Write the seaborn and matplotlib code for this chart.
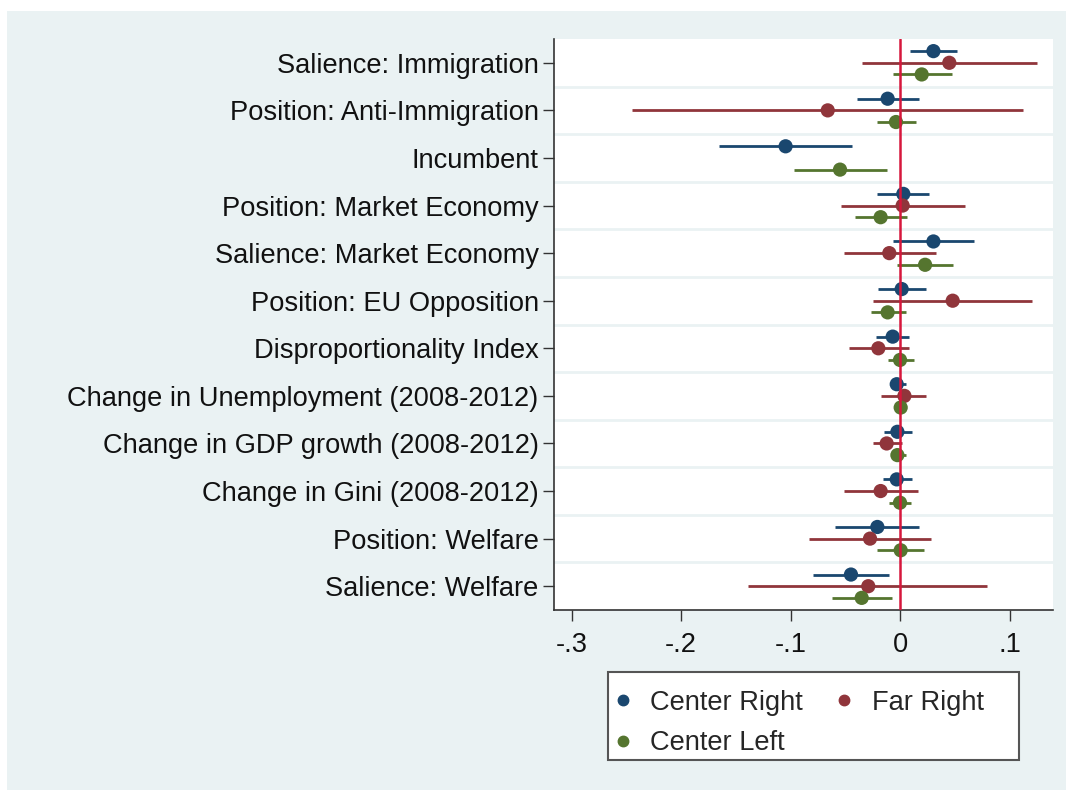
import numpy as np
import pandas as pd
import seaborn as sns
import matplotlib.pyplot as plt
from matplotlib.patches import Rectangle
from matplotlib.lines import Line2D

labels = ["Salience: Immigration", "Position: Anti-Immigration", "Incumbent",
          "Position: Market Economy", "Salience: Market Economy",
          "Position: EU Opposition", "Disproportionality Index",
          "Change in Unemployment (2008-2012)", "Change in GDP growth (2008-2012)",
          "Change in Gini (2008-2012)", "Position: Welfare", "Salience: Welfare"]

# Center Right
cr_b = [0.0305, -0.0113, -0.1045, 0.0030, 0.0305, 0.0015, -0.0067, -0.0030, -0.0024, -0.0030, -0.0207, -0.0448]
cr_lo = [0.0091, -0.0390, -0.1650, -0.0213, -0.0061, -0.0204, -0.0219, -0.0085, -0.0146, -0.0158, -0.0594, -0.0798]
cr_hi = [0.0518, 0.0174, -0.0436, 0.0268, 0.0676, 0.0238, 0.0082, 0.0052, 0.0113, 0.0113, 0.0177, -0.0101]
# Far Right (no Incumbent estimate)
fr_b = [0.0450, -0.0660, np.nan, 0.0024, -0.0098, 0.0481, -0.0198, 0.0040, -0.0122, -0.0177, -0.0274, -0.0290]
fr_lo = [-0.0344, -0.2444, np.nan, -0.0540, -0.0512, -0.0244, -0.0466, -0.0177, -0.0244, -0.0512, -0.0829, -0.1387]
fr_hi = [0.1250, 0.1127, np.nan, 0.0594, 0.0329, 0.1207, 0.0082, 0.0238, 0.0015, 0.0162, 0.0283, 0.0798]
# Center Left
cl_b = [0.0198, -0.0037, -0.0548, -0.0177, 0.0229, -0.0113, 0.0000, 0.0006, -0.0024, 0.0000, 0.0006, -0.0350]
cl_lo = [-0.0067, -0.0213, -0.0969, -0.0408, -0.0030, -0.0265, -0.0113, -0.0040, -0.0076, -0.0101, -0.0207, -0.0625]
cl_hi = [0.0472, 0.0146, -0.0116, 0.0067, 0.0487, 0.0052, 0.0128, 0.0050, 0.0052, 0.0098, 0.0223, -0.0070]

groups = ["Center Right", "Far Right", "Center Left"]
colors = {"Center Right": "#1a476f", "Far Right": "#90353b", "Center Left": "#55752f"}
offsets = {"Center Right": -0.245, "Far Right": 0.0, "Center Left": 0.245}

frames = []
for g, b, lo, hi in [("Center Right", cr_b, cr_lo, cr_hi),
                     ("Far Right", fr_b, fr_lo, fr_hi),
                     ("Center Left", cl_b, cl_lo, cl_hi)]:
    frames.append(pd.DataFrame({"group": g, "row": np.arange(len(labels)),
                                "b": b, "lo": lo, "hi": hi}))
df = pd.concat(frames, ignore_index=True).dropna()
df["y"] = df["row"] + df["group"].map(offsets)

sns.set_style("white")
plt.rcParams["font.family"] = ["Liberation Sans", "DejaVu Sans"]

W, H = 1066, 790
fig = plt.figure(figsize=(W / 100, H / 100), dpi=100, facecolor="white")
fig.patches.append(Rectangle((7 / W, 0), 1 - 7 / W, 1 - 11 / H, transform=fig.transFigure,
                             facecolor="#eaf2f3", edgecolor="none", zorder=-10))
ax = fig.add_axes([554 / W, 1 - 610 / H, (1053 - 554) / W, (610 - 39) / H])
ax.set_facecolor("white")

# row separators
for k in range(len(labels) - 1):
    ax.axhline(k + 0.5, color="#eaf2f3", lw=2, zorder=1)

for g in groups:
    d = df[df["group"] == g]
    ax.hlines(d["y"], d["lo"], d["hi"], color=colors[g], lw=2.0, zorder=2)
sns.scatterplot(data=df, x="b", y="y", hue="group", palette=colors, hue_order=groups,
                s=105, linewidth=0, legend=False, ax=ax, zorder=3)

ax.axvline(0, color="#d6173c", lw=1.8, zorder=4)

ax.set_xlim(-0.316, 0.1397)
ax.set_ylim(len(labels) - 0.5, -0.5)
ax.set_xticks([-0.3, -0.2, -0.1, 0, 0.1])
ax.set_xticklabels(["-.3", "-.2", "-.1", "0", ".1"])
ax.set_yticks(range(len(labels)))
ax.set_yticklabels(labels)
ax.set_xlabel("")
ax.set_ylabel("")
ax.tick_params(axis="both", direction="out", length=8, width=1, color="#333333",
               labelsize=19.6, labelcolor="#111111", pad=3, left=True, bottom=True)
ax.tick_params(axis="x", pad=8)
for side in ["top", "right"]:
    ax.spines[side].set_visible(False)
for side in ["left", "bottom"]:
    ax.spines[side].set_color("#333333")
    ax.spines[side].set_linewidth(1.2)

# legend box drawn separately, entries laid out row-wise
fig.patches.append(Rectangle((608 / W, 1 - 760 / H), 411 / W, 88 / H, transform=fig.transFigure,
                             facecolor="white", edgecolor="#555555", lw=1.5, zorder=4))
order = ["Center Right", "Center Left", "Far Right"]
handles = [Line2D([], [], marker="o", ls="", color=colors[g], markersize=7.5) for g in order]
leg = fig.legend(handles, order, loc="center left", ncol=2, frameon=False,
                 bbox_to_anchor=(609.5 / W, 1 - 723 / H), fontsize=19.6,
                 handletextpad=0.5, columnspacing=1.02, borderpad=0, labelspacing=0.54,
                 handlelength=1.0, borderaxespad=0)
leg.set_zorder(5)

fig.savefig("out.png", dpi=100, facecolor="white")
